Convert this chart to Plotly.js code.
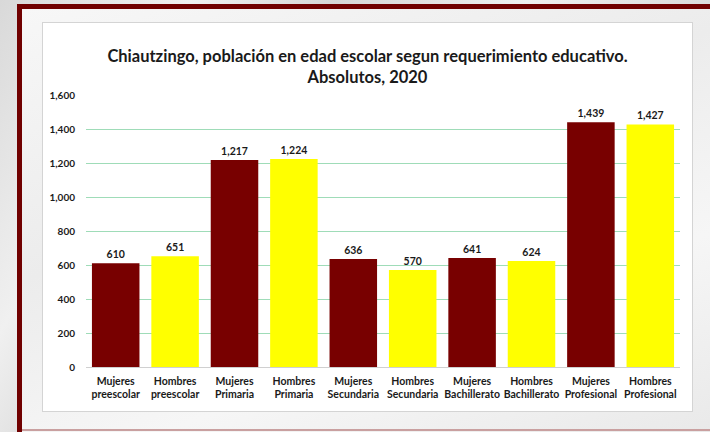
<!DOCTYPE html>
<html>
<head>
<meta charset="utf-8">
<script src="https://cdn.plot.ly/plotly-3.0.1.min.js"></script>
<style>
  html, body { margin: 0; padding: 0; }
  body {
    width: 710px; height: 432px; overflow: hidden; position: relative;
    background: linear-gradient(120deg, #d9d9d9 0%, #f0f0f0 20%, #d6d6d6 35%, #efefef 55%, #dadada 75%, #eeeeee 100%);
  }
  #frame {
    position: absolute; left: 17px; top: 4px; width: 700px; height: 430px;
    border-left: 5px solid #700000; border-top: 5px solid #700000;
    background: linear-gradient(160deg, #f7f7f7 0%, #ececec 40%, #f6f6f6 70%, #e9e9e9 100%);
    box-sizing: border-box;
  }
  #bottomline {
    position: absolute; left: 22px; top: 429px; width: 688px; height: 2px; background: #c9a0a0;
  }
  #box {
    position: absolute; left: 42px; top: 22px; width: 651px; height: 390px;
    background: #ffffff; border: 1px solid #d4d4d4; box-sizing: border-box;
  }
  #chart { position: absolute; left: 0; top: 0; width: 710px; height: 432px; }
</style>
</head>
<body>
<div id="frame"></div>
<div id="bottomline"></div>
<div id="box"></div>
<div id="chart"></div>
<script>
const categories = [
  "Mujeres<br>preescolar", "Hombres<br>preescolar",
  "Mujeres<br>Primaria", "Hombres<br>Primaria",
  "Mujeres<br>Secundaria", "Hombres<br>Secundaria",
  "Mujeres<br>Bachillerato", "Hombres<br>Bachillerato",
  "Mujeres<br>Profesional", "Hombres<br>Profesional"
];
const values = [610, 651, 1217, 1224, 636, 570, 641, 624, 1439, 1427];
const barColors = ["#780000", "#ffff00", "#780000", "#ffff00", "#780000", "#ffff00", "#780000", "#ffff00", "#780000", "#ffff00"];
const yTicks = [0, 200, 400, 600, 800, 1000, 1200, 1400, 1600];
const titleText = "Chiautzingo, población en edad escolar segun requerimiento educativo.<br>Absolutos, 2020";

const fontFam = "Lato, 'Open Sans', sans-serif";

const trace = {
  type: "bar",
  x: categories,
  y: values,
  marker: { color: barColors, line: { width: 0 } },
  text: values.map(v => v.toLocaleString("en-US")),
  textposition: "outside",
  cliponaxis: false,
  textfont: { family: fontFam, size: 10.5, color: "#1a1a1a", weight: 700 },
  hoverinfo: "x+y"
};

const layout = {
  width: 710, height: 432,
  paper_bgcolor: "rgba(0,0,0,0)",
  plot_bgcolor: "rgba(0,0,0,0)",
  margin: { l: 86, r: 30, t: 95, b: 65 },
  bargap: 0.2,
  showlegend: false,
  title: {
    text: titleText,
    font: { family: fontFam, size: 16.5, color: "#1a1a1a", weight: 700 },
    x: 367.5 / 710, xanchor: "center", xref: "container",
    y: 1 - 62 / 432, yanchor: "middle", yref: "container"
  },
  xaxis: {
    type: "category",
    tickfont: { family: fontFam, size: 10.5, color: "#1a1a1a", weight: 700 },
    showgrid: false,
    showline: true, linecolor: "#d0d0d0", linewidth: 1,
    ticks: "", ticklen: 0, ticklabelstandoff: 4
  },
  yaxis: {
    range: [0, 1600],
    tickvals: yTicks,
    ticktext: yTicks.map(v => v.toLocaleString("en-US")),
    tickfont: { family: fontFam, size: 10, color: "#1a1a1a", weight: 700 },
    showgrid: true, gridcolor: "#9fdcb8", gridwidth: 1,
    zeroline: false, showline: false,
    ticks: "", ticklabelstandoff: 10
  }
};

Plotly.newPlot("chart", [trace], layout, { displayModeBar: false, staticPlot: true });
</script>
</body>
</html>
